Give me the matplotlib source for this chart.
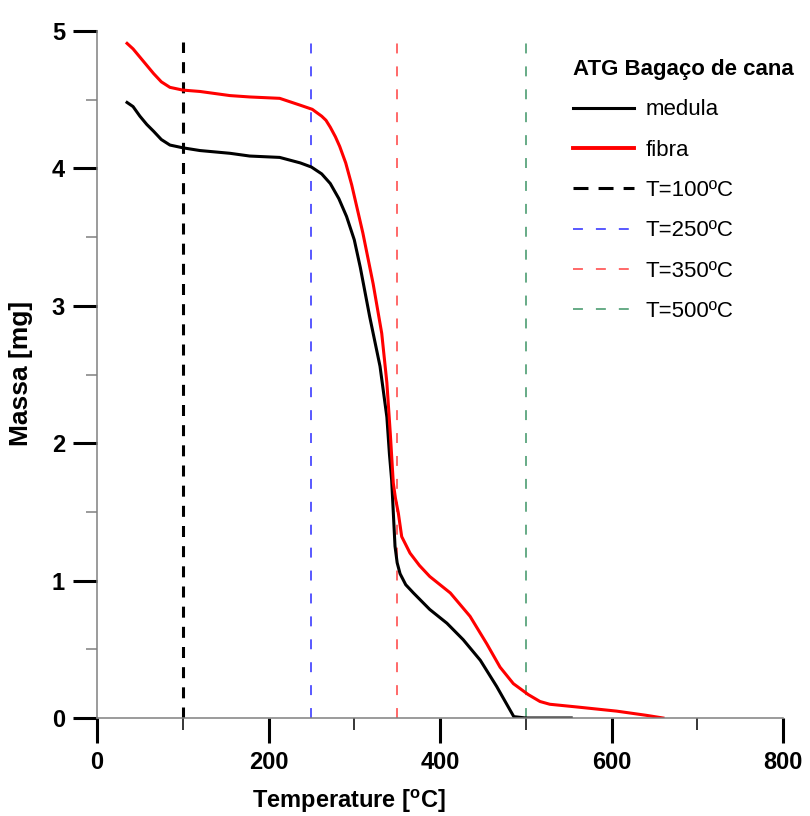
import numpy as np
import matplotlib
matplotlib.use('Agg')
import matplotlib.pyplot as plt
from matplotlib.ticker import MultipleLocator
from matplotlib.lines import Line2D

plt.rcParams['font.family'] = ['Liberation Sans', 'DejaVu Sans']

# medula (black)
t_medula = [35, 42, 50, 58, 66, 75, 85, 100, 120, 155, 178, 213, 237, 250, 262, 272, 282, 291, 300,
            307, 318, 330, 338, 341, 343.6, 347.5, 350, 353.4, 360, 369, 388, 408, 427, 447, 466,
            486, 500, 553]
m_medula = [4.48, 4.45, 4.38, 4.32, 4.27, 4.21, 4.17, 4.15, 4.13, 4.11, 4.09, 4.08, 4.04, 4.01, 3.96,
            3.89, 3.78, 3.65, 3.48, 3.28, 2.92, 2.56, 2.19, 1.92, 1.73, 1.25, 1.13, 1.05, 0.97, 0.91,
            0.79, 0.69, 0.57, 0.42, 0.23, 0.01, 0.0, 0.0]

# fibra (red)
t_fibra = [35, 42, 50, 58, 66, 75, 85, 100, 120, 155, 178, 213, 237, 251, 262, 267, 272, 278, 283,
           290, 297, 310, 322, 332, 338, 342, 345.5, 348, 351.4, 355.3, 365, 376, 388, 412, 435,
           454.5, 470, 485.5, 503, 516.6, 528, 560, 606, 640, 660]
m_fibra = [4.91, 4.87, 4.81, 4.75, 4.69, 4.63, 4.59, 4.57, 4.56, 4.53, 4.52, 4.51, 4.46, 4.43, 4.38,
           4.35, 4.30, 4.23, 4.16, 4.04, 3.88, 3.53, 3.16, 2.80, 2.44, 2.07, 1.71, 1.60, 1.49, 1.32,
           1.20, 1.11, 1.03, 0.91, 0.74, 0.54, 0.37, 0.25, 0.17, 0.12, 0.10, 0.08, 0.05, 0.02, 0.0]

# temperaturas de referencia
t_ref = [100, 250, 350, 500]
ref_labels = ['T=100ºC', 'T=250ºC', 'T=350ºC', 'T=500ºC']
ref_colors = ['black', '#2b2bff', '#ff4040', '#3d9466']
line_top = 4.92

fig = plt.figure(figsize=(8.1, 8.16), dpi=100)
ax = fig.add_axes([0.1198, 0.1201, 0.8469, 0.8419])

for t, c in zip(t_ref, ref_colors):
    if c == 'black':
        ax.plot([t, t], [0, line_top], color=c, lw=2.2, dashes=(3.6, 3.0))
    else:
        ax.plot([t, t], [0, line_top], color=c, lw=1.1, dashes=(6.5, 8.5))

ax.plot(t_medula, m_medula, color='black', lw=2.2)
ax.plot(t_fibra, m_fibra, color='red', lw=2.2)

ax.set_xlim(0, 800)
ax.set_ylim(0, 5)
ax.xaxis.set_major_locator(MultipleLocator(200))
ax.xaxis.set_minor_locator(MultipleLocator(100))
ax.yaxis.set_major_locator(MultipleLocator(1))
ax.yaxis.set_minor_locator(MultipleLocator(0.5))

for s in ['top', 'right']:
    ax.spines[s].set_visible(False)
for s in ['left', 'bottom']:
    ax.spines[s].set_color('#808080')
    ax.spines[s].set_linewidth(1.1)

narrow = ['Liberation Sans Narrow', 'Liberation Sans', 'DejaVu Sans']
ax.tick_params(axis='x', which='major', direction='out', length=18, width=2.2, color='black', pad=6)
ax.tick_params(axis='x', which='minor', direction='out', length=8.6, width=1.1, color='black')
ax.tick_params(axis='y', which='major', direction='out', length=17, width=2.2, color='black', pad=6)
ax.tick_params(axis='y', which='minor', direction='out', length=8, width=1.1, color='#808080')
for lab in ax.get_xticklabels() + ax.get_yticklabels():
    lab.set_family(narrow)
    lab.set_fontweight('bold')
    lab.set_fontsize(17)

ax.set_xlabel('Temperature [$\\mathregular{^o}$C]', family=narrow, fontweight='bold', fontsize=17)
ax.set_ylabel('Massa [mg]', family=narrow, fontweight='bold', fontsize=19)
ax.xaxis.set_label_coords(0.367, -0.102)
ax.yaxis.set_label_coords(-0.093, 0.502)

handles = [Line2D([], [], color='black', lw=2.2),
           Line2D([], [], color='red', lw=2.8)]
for c in ref_colors:
    if c == 'black':
        handles.append(Line2D([], [], color=c, lw=2.2, dashes=(4.9, 3.3)))
    else:
        handles.append(Line2D([], [], color=c, lw=1.1, dashes=(6.5, 8.5)))
labels = ['medula', 'fibra'] + ref_labels
leg = ax.legend(handles, labels, loc='upper left', bbox_to_anchor=(0.681, 0.972),
                frameon=False, fontsize=16, handlelength=2.75, handletextpad=0.5,
                labelspacing=0.87, borderaxespad=0, title='ATG Bagaço de cana',
                title_fontproperties={'weight': 'bold', 'size': 16}, alignment='left')

fig.savefig('out.png', dpi=100)
